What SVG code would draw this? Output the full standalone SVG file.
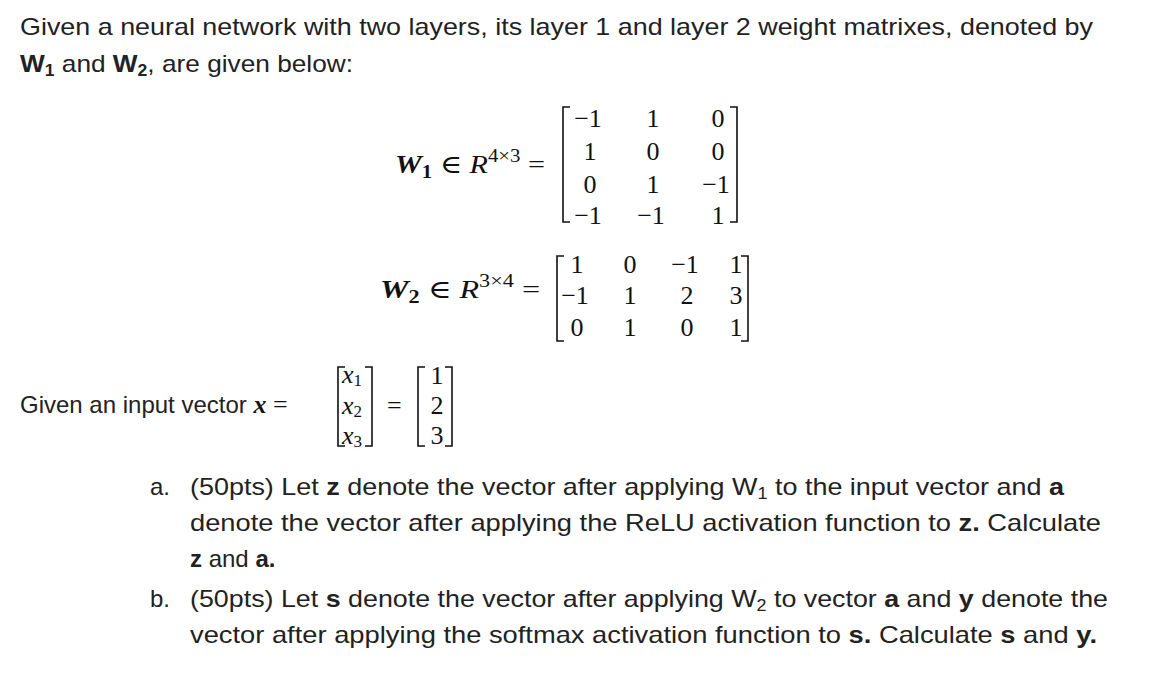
<svg xmlns="http://www.w3.org/2000/svg" width="1153" height="685" viewBox="0 0 1153 685">
<style>
.t{font-family:"Liberation Sans",Arial,sans-serif;font-size:24px;fill:#222}
.b{font-weight:bold}
.m{font-family:"Liberation Serif","DejaVu Serif",serif;font-size:26px;fill:#111}
.c{text-anchor:middle}
.br{fill:none;stroke:#111;stroke-width:1.6}
</style>
<rect width="1153" height="685" fill="#fff"/>
<text class="t" x="20" y="35" textLength="1073" lengthAdjust="spacingAndGlyphs">Given a neural network with two layers, its layer 1 and layer 2 weight matrixes, denoted by</text>
<text class="t" x="20" y="72" textLength="333" lengthAdjust="spacingAndGlyphs"><tspan class="b">W</tspan><tspan class="b" font-size="16" dy="4">1</tspan><tspan dy="-4"> and </tspan><tspan class="b">W</tspan><tspan class="b" font-size="16" dy="4">2</tspan><tspan dy="-4">, are given below:</tspan></text>

<g id="W1">
<text class="m" x="395" y="173" textLength="150" lengthAdjust="spacingAndGlyphs"><tspan font-weight="bold" font-style="italic">W</tspan><tspan font-weight="bold" font-size="18" dy="5">1</tspan><tspan dy="-5"> ∈ </tspan><tspan font-style="italic">R</tspan><tspan font-size="18" dy="-11">4×3</tspan><tspan dy="11"> =</tspan></text>
<path class="br" d="M570,107 H563 V222 H570"/>
<path class="br" d="M730,107 H737 V222 H730"/>
<g class="m c">
<text x="588" y="127">−1</text><text x="653" y="127">1</text><text x="718" y="127">0</text>
<text x="590" y="160">1</text><text x="653" y="160">0</text><text x="718" y="160">0</text>
<text x="590" y="193">0</text><text x="653" y="193">1</text><text x="716" y="193">−1</text>
<text x="588" y="224">−1</text><text x="651" y="224">−1</text><text x="718" y="224">1</text>
</g>
</g>

<g id="W2">
<text class="m" x="380" y="298" textLength="160" lengthAdjust="spacingAndGlyphs"><tspan font-weight="bold" font-style="italic">W</tspan><tspan font-weight="bold" font-size="18" dy="5">2</tspan><tspan dy="-5"> ∈ </tspan><tspan font-style="italic">R</tspan><tspan font-size="18" dy="-11">3×4</tspan><tspan dy="11"> =</tspan></text>
<path class="br" d="M564,256 H557 V341 H564"/>
<path class="br" d="M741,256 H748 V341 H741"/>
<g class="m c">
<text x="577" y="273">1</text><text x="630" y="273">0</text><text x="685" y="273">−1</text><text x="736" y="273">1</text>
<text x="575" y="304">−1</text><text x="630" y="304">1</text><text x="687" y="304">2</text><text x="736" y="304">3</text>
<text x="577" y="336">0</text><text x="630" y="336">1</text><text x="687" y="336">0</text><text x="736" y="336">1</text>
</g>
</g>

<g id="x">
<text x="20" y="413"><tspan class="t">Given an input vector </tspan><tspan class="m" font-weight="bold" font-style="italic">x</tspan><tspan class="m"> =</tspan></text>
<path class="br" d="M345,367 H338 V446 H345"/>
<path class="br" d="M365,367 H372 V446 H365"/>
<g class="m" font-style="italic">
<text x="342" y="383">x<tspan font-size="17" dy="3" font-style="normal">1</tspan></text>
<text x="342" y="414">x<tspan font-size="17" dy="3" font-style="normal">2</tspan></text>
<text x="342" y="444">x<tspan font-size="17" dy="3" font-style="normal">3</tspan></text>
</g>
<text class="m" x="387" y="414">=</text>
<path class="br" d="M425,367 H418 V446 H425"/>
<path class="br" d="M445,367 H452 V446 H445"/>
<g class="m c">
<text x="437" y="384">1</text><text x="437" y="414">2</text><text x="437" y="444">3</text>
</g>
</g>

<g id="items">
<text class="t" x="150" y="495">a.</text>
<text class="t" x="190" y="495" textLength="874" lengthAdjust="spacingAndGlyphs">(50pts) Let <tspan class="b">z</tspan> denote the vector after applying W<tspan font-size="16" dy="4">1</tspan><tspan dy="-4"> to the input vector and </tspan><tspan class="b">a</tspan></text>
<text class="t" x="190" y="531" textLength="911" lengthAdjust="spacingAndGlyphs">denote the vector after applying the ReLU activation function to <tspan class="b">z.</tspan> Calculate</text>
<text class="t" x="190" y="567"><tspan class="b">z</tspan> and <tspan class="b">a.</tspan></text>
<text class="t" x="150" y="607">b.</text>
<text class="t" x="190" y="607" textLength="918" lengthAdjust="spacingAndGlyphs">(50pts) Let <tspan class="b">s</tspan> denote the vector after applying W<tspan font-size="16" dy="4">2</tspan><tspan dy="-4"> to vector </tspan><tspan class="b">a</tspan> and <tspan class="b">y</tspan> denote the</text>
<text class="t" x="190" y="643" textLength="907" lengthAdjust="spacingAndGlyphs">vector after applying the softmax activation function to <tspan class="b">s.</tspan> Calculate <tspan class="b">s</tspan> and <tspan class="b">y.</tspan></text>
</g>
</svg>
